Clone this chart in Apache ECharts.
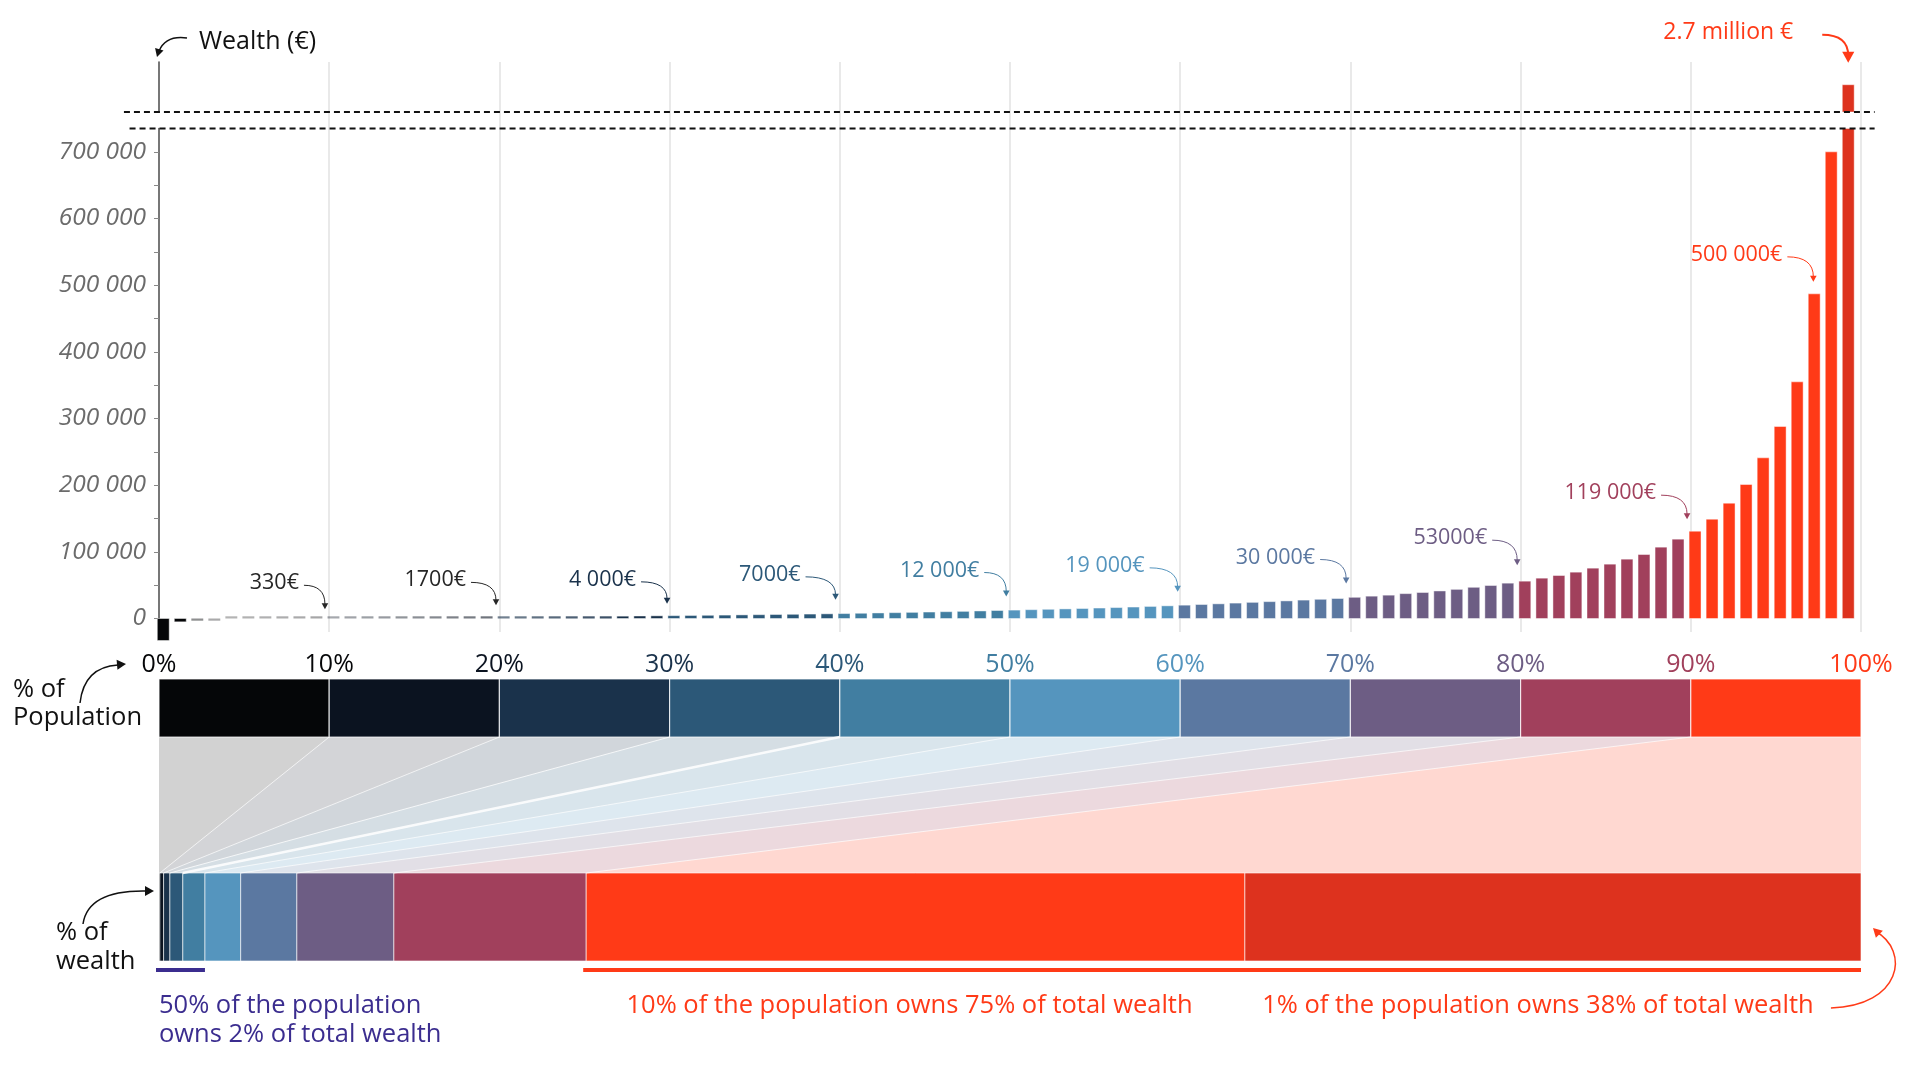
<!DOCTYPE html>
<html><head><meta charset="utf-8">
<script src="https://cdn.jsdelivr.net/npm/echarts@6/dist/echarts.min.js"></script>
<style>html,body{margin:0;padding:0;background:#fff}#c{width:1920px;height:1080px}</style>
</head><body><div id="c"></div>
<script>
// ---------------- DATA ----------------
const percentileRanks = Array.from({length: 100}, (_, i) => i); // categories: percentile 0..99
const wealthByPercentile = [
  -33000, -5000, -900, -250, 10, 50, 100, 170, 250, 330,
  420, 520, 630, 760, 900, 1050, 1210, 1380, 1540, 1700,
  1900, 2100, 2330, 2560, 2800, 3040, 3280, 3520, 3760, 4000,
  4250, 4530, 4800, 5100, 5400, 5700, 6000, 6300, 6650, 7000,
  7400, 7850, 8300, 8750, 9200, 9700, 10200, 10700, 11300, 12000,
  12600, 13200, 13800, 14400, 15000, 15700, 16400, 17200, 18100, 19000,
  20000, 21000, 22000, 23100, 24200, 25300, 26400, 27600, 28800, 30000,
  31800, 33500, 35000, 37300, 39000, 41300, 43700, 46800, 49500, 53000,
  56000, 60500, 64500, 69500, 75500, 81500, 89000, 96000, 107000, 119000,
  131000, 149000, 173000, 201000, 241000, 288000, 355000, 487000, 700000, 2700000
];
const decileTickLabels = ['0%','10%','20%','30%','40%','50%','60%','70%','80%','90%','100%'];
const decileColors = ['#050608','#0b1320','#1a324b','#2c5878','#417ea1','#5595be','#5b78a1','#6d5d84','#a1405c','#ff3a17'];
const topPercentColor = '#dd321e';
const wealthGroups = ['D1','D2','D3','D4','D5','D6','D7','D8','D9','P90-99','P99-100'];
const wealthShare = [0.05, 0.22, 0.37, 0.76, 1.3, 2.1, 3.3, 5.7, 11.3, 38.7, 36.2];
const yTickValues = [0,50000,100000,150000,200000,250000,300000,350000,400000,450000,500000,550000,600000,650000,700000];
const yLabelValues = [0,100000,200000,300000,400000,500000,600000,700000];
const noteTexts = ['330€','1700€','4 000€','7000€','12 000€','19 000€','30 000€','53000€','119 000€','500 000€','2.7 million €'];
const noteBars = [9,19,29,39,49,59,69,79,89,97,99];
const summaryTexts = [['50% of the population','owns 2% of total wealth'],['10% of the population owns 75% of total wealth'],['1% of the population owns 38% of total wealth']];

// ---------------- LAYOUT / STYLE ----------------
const FF = '"Open Sans", "Noto Sans", sans-serif';
const LOWER_MAX = 735000, UPPER_MIN = 2580000, UPPER_MAX = 2800000;
const noteColors = ['#262626','#262626','#1a324b','#2c5878','#417ea1','#5595be','#5b78a1','#6d5d84','#a1405c','#ff3a17','#ff3a17'];
const noteTipDx = [0.75,0.8,0.85,0.75,0.78,0.85,0.75,0.8,0.78,0.2,0.25];
const noteLift = [9,12,12,14,14,14,15,18,20,12,22];
const noteGap = [26,30,31,35,27,33,31,30,31,31,55];
const noteRise = [26,25,24,25,26,26,26,27,26,27,30];
const noteArrowStart = [5,5,5,5,5,5,5,5,5,5,29];
const noteFont = [21.5,21.5,21.5,21.5,21.5,21.5,21.5,21.5,21.5,21.5,23];
const summaryColors = ['#3b2d8f','#ff3a17','#ff3a17'];
const summaryUnderline = [[0,5],[9,11],null];
const summaryAnchor = [[0,0,'left'],[9,10,'center'],[10,11,'center']];
const summaryDx = [0,-6,-15];
const fanEdgeWidth = [0.8,0.8,0.9,2.4,0.8,0.8,0.8,0.8,0.8];

const cum = [0];
wealthShare.forEach((s, j) => cum.push(cum[j] + s));

function barColor(i){ return i === 99 ? topPercentColor : decileColors[Math.floor(i/10)]; }
function rgba(hex, a){
  const n = parseInt(hex.slice(1), 16);
  return 'rgba(' + ((n>>16)&255) + ',' + ((n>>8)&255) + ',' + (n&255) + ',' + a + ')';
}
function head(x, y, fx, fy, size, color){
  const ang = Math.atan2(y - fy, x - fx);
  const w = size * 0.55;
  const bx = x - size*Math.cos(ang), by = y - size*Math.sin(ang);
  const nx = -Math.sin(ang)*w, ny = Math.cos(ang)*w;
  return {type:'polygon', shape:{points:[[x,y],[bx+nx,by+ny],[bx-nx,by-ny]]}, style:{fill:color}};
}
function fmt(v){ return String(v).replace(/\B(?=(\d{3})+(?!\d))/g, ' '); }

const barData = percentileRanks.map(i => [i, wealthByPercentile[i]]);

function renderLowerBar(params, api){
  const i = api.value(0), v = api.value(1);
  const xa = api.coord([i - 0.1, 0])[0], xb = api.coord([i + 0.6, 0])[0];
  const y0 = api.coord([i, 0])[1];
  const y1 = api.coord([i, Math.min(v, LOWER_MAX)])[1];
  let top = Math.min(y0, y1), h = Math.abs(y1 - y0), op = 1, stroke = 'rgba(255,255,255,0.45)';
  if (h < 2.2) { op = Math.min(1, 0.3 + h*0.25); top = v >= 0 ? y0 - 2.2 : y0; h = 2.2; stroke = null; }
  return {type:'rect', shape:{x:xa, y:top, width:xb - xa, height:h},
    style:{fill:barColor(i), opacity:op, stroke:stroke, lineWidth:1}};
}
function renderUpperBar(params, api){
  const i = api.value(0), v = api.value(1);
  if (v <= UPPER_MIN) return null;
  const xa = api.coord([i - 0.1, 0])[0], xb = api.coord([i + 0.6, 0])[0];
  const y0 = api.coord([i, UPPER_MIN])[1], y1 = api.coord([i, v])[1];
  return {type:'rect', shape:{x:xa, y:y1, width:xb - xa, height:y0 - y1},
    style:{fill:barColor(i), stroke:'rgba(255,255,255,0.45)', lineWidth:1}};
}
function renderNote(params, api){
  const i = api.value(0), v = api.value(1), n = api.value(2);
  const tip = api.coord([i + noteTipDx[n], v]);
  const tx = tip[0], ty = tip[1] - noteLift[n];
  const col = noteColors[n];
  const textRight = tx - noteGap[n], cy = ty - noteRise[n];
  const sx = textRight + noteArrowStart[n], sy = cy + 2;
  const big = n === 10;
  const endY = ty - (big ? 7 : 5);
  return {type:'group', children:[
    {type:'text', style:{text:noteTexts[n], x:textRight, y:cy, fill:col, fontSize:noteFont[n], fontFamily:FF, align:'right', verticalAlign:'middle'}},
    {type:'bezierCurve', shape:{x1:sx, y1:sy, cpx1:tx, cpy1:sy, x2:tx, y2:endY}, style:{stroke:col, lineWidth: big ? 2 : 1, fill:null}},
    head(tx, ty, tx, endY - 3, big ? 11 : 6, col)
  ]};
}
function renderBreakLine(params, api){
  const y = api.value(1), x0 = api.value(0), x1 = api.value(2);
  const a = api.coord([x0, y]), b = api.coord([x1, y]);
  return {type:'line', shape:{x1:a[0], y1:a[1], x2:b[0], y2:b[1]}, style:{stroke:'#111', lineWidth:2, lineDash:[6,4]}};
}
function renderPop(params, api){
  const k = api.value(0);
  const a = api.coord([k*10, 1]), b = api.coord([k*10 + 10, 0]);
  return {type:'rect', shape:{x:a[0], y:a[1], width:b[0]-a[0], height:b[1]-a[1]},
    style:{fill:decileColors[k], stroke:'rgba(255,255,255,0.75)', lineWidth:1.2}};
}
function renderFan(params, api){
  const k = api.value(0);
  const w0 = cum[k], w1 = k === 9 ? cum[11] : cum[k+1];
  const a = api.coord([k*10, 1]), b = api.coord([k*10+10, 1]), c = api.coord([w1, 0]), d = api.coord([w0, 0]);
  const ch = [{type:'polygon', shape:{points:[a, b, c, d]},
    style:{fill:rgba(decileColors[k], k < 2 ? 0.18 : 0.2)}}];
  if (k < 9) ch.push({type:'line', shape:{x1:b[0], y1:b[1], x2:c[0], y2:c[1]},
    style:{stroke:'rgba(255,255,255,0.85)', lineWidth:fanEdgeWidth[k]}, z2:10});
  return {type:'group', children:ch};
}
function renderWealth(params, api){
  const g = api.value(0);
  const a = api.coord([cum[g], 1]), b = api.coord([cum[g+1], 0]);
  const col = g === 10 ? topPercentColor : decileColors[Math.min(g, 9)];
  return {type:'rect', shape:{x:a[0], y:a[1], width:b[0]-a[0], height:b[1]-a[1]},
    style:{fill:col, stroke:'rgba(255,255,255,0.6)', lineWidth:1}};
}
function renderSummary(params, api){
  const s = api.value(0);
  const yb = api.coord([0, 0])[1];
  const col = summaryColors[s];
  const ch = [];
  const ul = summaryUnderline[s];
  if (ul) {
    const xa = api.coord([cum[ul[0]], 0])[0], xb = api.coord([cum[ul[1]], 0])[0];
    ch.push({type:'rect', shape:{x:xa - 3, y:yb + 7, width:xb - xa + 3, height:4}, style:{fill:col}});
  }
  const an = summaryAnchor[s];
  const x = api.coord([(cum[an[0]] + cum[an[1]]) / 2, 0])[0] + summaryDx[s];
  summaryTexts[s].forEach((t, li) => {
    ch.push({type:'text', style:{text:t, x:x, y:yb + 45 + li*29, fill:col, fontSize:25.5, fontFamily:FF, align:an[2], verticalAlign:'middle'}});
  });
  if (s === 2) {
    const xe = api.coord([cum[11], 0])[0];
    const sx = x + 293, sy = yb + 47;
    ch.push({type:'bezierCurve', shape:{x1:sx, y1:sy, cpx1:xe + 40, cpy1:sy - 2, cpx2:xe + 50, cpy2:yb - 10, x2:xe + 14, y2:yb - 30}, style:{stroke:col, lineWidth:1.5, fill:null}});
    ch.push(head(xe + 12, yb - 33, xe + 30, yb - 15, 9, col));
  }
  return {type:'group', children:ch};
}

const G = (top, bottom) => ({left:159, right:59, top:top, bottom:1080 - bottom});
const hiddenX = i => ({type:'value', gridIndex:i, min:0, max:100, show:false});
const hiddenY = i => ({type:'value', gridIndex:i, min:0, max:1, show:false});

const option = {
  animation:false,
  backgroundColor:'#fff',
  grid:[G(62, 632), G(128.5, 618.5), G(62, 112), G(679, 737), G(737, 873), G(873, 961)],
  xAxis:[
    {type:'value', gridIndex:0, min:0, max:100, interval:10,
      axisLine:{show:false}, axisTick:{show:false},
      splitLine:{show:true, showMinLine:false, lineStyle:{color:'#e2e2e2', width:1.5}},
      axisLabel:{show:true, showMinLabel:true, showMaxLabel:true, margin:20, fontSize:25, fontFamily:FF,
        formatter: v => decileTickLabels[Math.round(v/10)],
        color: v => { const k = Math.round(Number(v)/10); return k === 0 ? decileColors[0] : decileColors[k-1]; }}},
    hiddenX(1), hiddenX(2), hiddenX(3), hiddenX(4), hiddenX(5)
  ],
  yAxis:[
    hiddenY(0),
    {type:'value', gridIndex:1, min:0, max:LOWER_MAX,
      axisLine:{show:true, lineStyle:{color:'#555', width:1.6}},
      axisTick:{show:true, length:5, customValues:yTickValues, lineStyle:{color:'#888', width:1}},
      axisLabel:{show:true, customValues:yLabelValues, formatter: v => fmt(v), fontStyle:'italic', color:'#6b6b6b', fontSize:24.5, fontFamily:FF, margin:13, padding:[0,0,7,0]},
      splitLine:{show:false}},
    {type:'value', gridIndex:2, min:UPPER_MIN, max:UPPER_MAX,
      axisLine:{show:true, lineStyle:{color:'#555', width:1.6}}, axisTick:{show:false}, axisLabel:{show:false}, splitLine:{show:false}},
    hiddenY(3), hiddenY(4), hiddenY(5)
  ],
  series:[
    {type:'custom', name:'fan', xAxisIndex:4, yAxisIndex:4, clip:false, data:decileColors.map((c,k)=>[k]), renderItem:renderFan},
    {type:'custom', name:'population', xAxisIndex:3, yAxisIndex:3, clip:false, data:decileColors.map((c,k)=>[k]), renderItem:renderPop},
    {type:'custom', name:'wealth share', xAxisIndex:5, yAxisIndex:5, clip:false, data:wealthGroups.map((g,k)=>[k]), renderItem:renderWealth},
    {type:'custom', name:'summary', xAxisIndex:5, yAxisIndex:5, clip:false, data:summaryTexts.map((t,k)=>[k]), renderItem:renderSummary},
    {type:'custom', name:'wealth lower', xAxisIndex:1, yAxisIndex:1, clip:false, data:barData, renderItem:renderLowerBar},
    {type:'custom', name:'wealth upper', xAxisIndex:2, yAxisIndex:2, clip:false, data:barData, renderItem:renderUpperBar},
    {type:'custom', name:'break upper', xAxisIndex:2, yAxisIndex:2, clip:false, data:[[-2.06, UPPER_MIN, 100.8]], renderItem:renderBreakLine},
    {type:'custom', name:'break lower', xAxisIndex:1, yAxisIndex:1, clip:false, data:[[-1.73, LOWER_MAX, 100.8]], renderItem:renderBreakLine},
    {type:'custom', name:'notes lower', xAxisIndex:1, yAxisIndex:1, clip:false, z:5,
      data:noteBars.map((b,n)=>[b, wealthByPercentile[b], n]).filter(d => d[1] <= LOWER_MAX), renderItem:renderNote},
    {type:'custom', name:'notes upper', xAxisIndex:2, yAxisIndex:2, clip:false, z:5,
      data:noteBars.map((b,n)=>[b, wealthByPercentile[b], n]).filter(d => d[1] > LOWER_MAX), renderItem:renderNote}
  ],
  graphic:[
    {type:'text', left:199, top:29, style:{text:'Wealth (€)', fontSize:25, fontFamily:FF, fill:'#111'}},
    {type:'bezierCurve', shape:{x1:187, y1:38, cpx1:166, cpy1:35, x2:159, y2:51}, style:{stroke:'#111', lineWidth:1.5, fill:null}},
    head(157, 57, 160, 47, 8, '#111'),
    {type:'text', left:13, top:677, style:{text:'% of', fontSize:25.5, fontFamily:FF, fill:'#111'}},
    {type:'text', left:13, top:705, style:{text:'Population', fontSize:25.5, fontFamily:FF, fill:'#111'}},
    {type:'bezierCurve', shape:{x1:80, y1:703, cpx1:84, cpy1:667, x2:118, y2:665}, style:{stroke:'#111', lineWidth:1.5, fill:null}},
    head(126, 664, 114, 665, 9, '#111'),
    {type:'text', left:56, top:920, style:{text:'% of', fontSize:25.5, fontFamily:FF, fill:'#111'}},
    {type:'text', left:56, top:949, style:{text:'wealth', fontSize:25.5, fontFamily:FF, fill:'#111'}},
    {type:'bezierCurve', shape:{x1:83, y1:924, cpx1:88, cpy1:890, x2:146, y2:891}, style:{stroke:'#111', lineWidth:1.5, fill:null}},
    head(154, 891, 142, 891, 9, '#111')
  ]
};
const chart = echarts.init(document.getElementById('c'), null, {renderer:'canvas', width:1920, height:1080});
chart.setOption(option);
</script></body></html>
